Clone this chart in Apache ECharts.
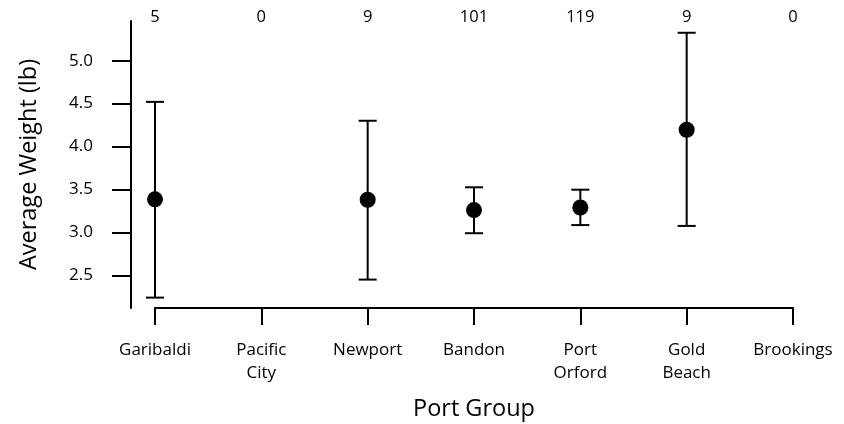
<!DOCTYPE html>
<html><head><meta charset="utf-8">
<script src="https://cdn.jsdelivr.net/npm/echarts@6/dist/echarts.min.js"></script>
<style>html,body{margin:0;padding:0;background:#fff}#c{width:844px;height:424px}</style>
</head><body><div id="c"></div>
<script>
const categories = ['Garibaldi', 'Pacific\nCity', 'Newport', 'Bandon', 'Port\nOrford', 'Gold\nBeach', 'Brookings'];
const counts = [5, 0, 9, 101, 119, 9, 0];
const means = [3.385, null, 3.38, 3.26, 3.29, 4.195, null];
const lower = [2.24, null, 2.45, 2.99, 3.085, 3.075, null];
const upper = [4.52, null, 4.30, 3.525, 3.497, 5.325, null];
const yTicks = [2.5, 3.0, 3.5, 4.0, 4.5, 5.0];

const FONT = 'Open Sans';
const chart = echarts.init(document.getElementById('c'));
const barData = [];
categories.forEach((c, i) => { if (means[i] != null) barData.push([i, lower[i], upper[i]]); });
const ptData = means.map((m, i) => [i, m]);

chart.setOption({
  animation: false,
  grid: { left: 155, right: 51, top: 21, bottom: 116, outerBoundsMode: 'none', containLabel: false },
  xAxis: [{
    type: 'category', data: categories, boundaryGap: false,
    axisLine: { lineStyle: { color: '#000', width: 2 } },
    axisTick: { length: 17, lineStyle: { color: '#000', width: 2 } },
    axisLabel: { color: '#000', fontFamily: FONT, fontSize: 17, margin: 31, lineHeight: 23, interval: 0 },
    name: 'Port Group', nameLocation: 'middle', nameGap: 89,
    nameTextStyle: { color: '#000', fontFamily: FONT, fontSize: 23.5 },
    splitLine: { show: false }
  }, {
    type: 'category', data: counts.map(String), boundaryGap: false, position: 'top',
    axisLine: { show: false }, axisTick: { show: false },
    axisLabel: { color: '#000', fontFamily: FONT, fontSize: 16.5, margin: 4, verticalAlign: 'middle', interval: 0 }
  }],
  yAxis: {
    type: 'value', min: 2.119, max: 5.462, offset: 24,
    axisLine: { show: true, lineStyle: { color: '#000', width: 2 } },
    axisTick: { show: true, length: 19, customValues: yTicks, lineStyle: { color: '#000', width: 2 } },
    axisLabel: { color: '#000', fontFamily: FONT, fontSize: 17, margin: 38, customValues: yTicks,
      formatter: v => Number(v).toFixed(1) },
    splitLine: { show: false },
    name: 'Average Weight (lb)', nameLocation: 'middle', nameGap: 90,
    nameTextStyle: { color: '#000', fontFamily: FONT, fontSize: 23.5 }
  },
  series: [{
    type: 'custom', data: barData, z: 2,
    renderItem: (params, api) => {
      const x = api.value(0);
      const lo = api.coord([x, api.value(1)]);
      const hi = api.coord([x, api.value(2)]);
      const w = 9;
      const st = { stroke: '#000', lineWidth: 2, fill: null };
      return { type: 'group', children: [
        { type: 'line', shape: { x1: lo[0], y1: lo[1], x2: hi[0], y2: hi[1] }, style: st },
        { type: 'line', shape: { x1: lo[0] - w, y1: lo[1], x2: lo[0] + w, y2: lo[1] }, style: st },
        { type: 'line', shape: { x1: hi[0] - w, y1: hi[1], x2: hi[0] + w, y2: hi[1] }, style: st }
      ]};
    }
  }, {
    type: 'scatter', data: ptData, symbol: 'circle', symbolSize: 16, z: 3,
    itemStyle: { color: '#000', opacity: 1 }
  }]
});
</script></body></html>
